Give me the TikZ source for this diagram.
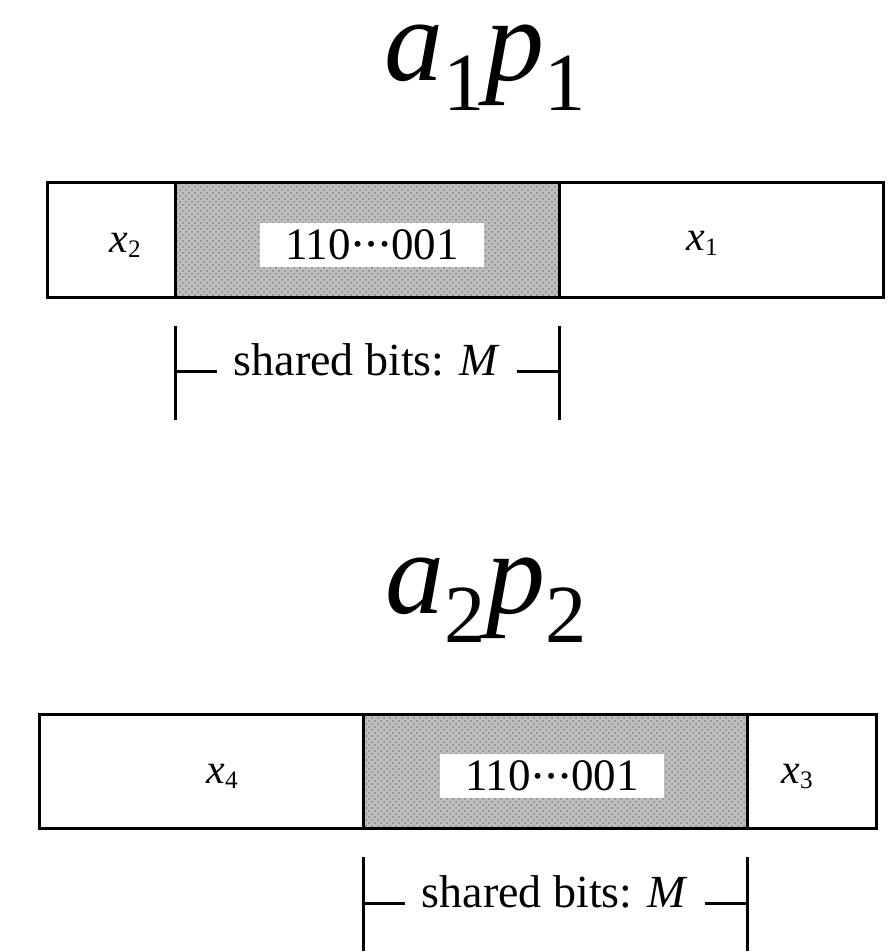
\documentclass[tikz,border=0pt]{standalone}
\usepackage{fontspec}
\setmainfont{Liberation Serif}
\usetikzlibrary{positioning, calc, patterns}
\definecolor{bitlight}{RGB}{190, 190, 190}
\definecolor{bitdark}{RGB}{130, 130, 130}
\newcommand{\bigidx}[1]{\raisebox{-0.25em}{\scalebox{0.7}{#1}}}
\newcommand{\varidx}[1]{\raisebox{-0.12em}{\scalebox{0.6}{#1}}}
\newcommand{\onedot}{\makebox[0.3em]{\raisebox{0.15em}{\scalebox{0.55}{\textbullet}}}}
\newcommand{\bitdots}{\onedot\onedot\onedot}

\begin{document}
\begin{tikzpicture}[
    x=0.5pt, y=-0.5pt,
    cell/.style={rectangle, draw, line width=1.5pt, minimum height=57pt, inner sep=0pt, outer sep=0pt},
    shared/.style={cell, preaction={fill=bitlight}, pattern=crosshatch dots, pattern color=bitdark},
    bitstr/.style={fill=white, minimum width=112pt, minimum height=22pt, inner sep=0pt, font=\fontsize{22.5}{27}\selectfont},
    var/.style={font=\fontsize{21}{25}\selectfont, anchor=base},
    title/.style={font=\fontsize{59}{70}\selectfont, anchor=base, inner sep=0pt},
    span/.style={font=\fontsize{23}{28}\selectfont, anchor=mid, inner xsep=8pt, inner ysep=0pt},
    tick/.style={line width=1.5pt}
]
\useasboundingbox (0,0) rectangle (890,952);

% first word
\node[title] (t1) at (485,81) {\textit{a}\bigidx{1}\textit{p}\bigidx{1}};
\node[cell, minimum width=64pt] (c1a) at (111,240) {};
\node[shared, minimum width=192pt, right=0pt of c1a] (c1b) {};
\node[cell, minimum width=162pt, right=0pt of c1b] (c1c) {};
\node[bitstr] (b1) at ($(c1b)+(5,5)$) {110\bitdots001};
\node[var] (x2) at (125,252) {\textit{x}\varidx{2}};
\node[var] (x1) at (702,250) {\textit{x}\varidx{1}};

\coordinate (m1lt) at (175,326);
\coordinate (m1lb) at (175,420);
\coordinate (m1rt) at (559,326);
\coordinate (m1rb) at (559,420);
\node[span] (s1) at (367,371) {shared bits: \textit{M}};
\draw[tick] (m1lt) -- (m1lb);
\draw[tick] (m1rt) -- (m1rb);
\draw[tick] (s1.mid west) -- (s1.mid west -| m1lt);
\draw[tick] (s1.mid east) -- (s1.mid east -| m1rt);

% second word
\node[title] (t2) at (486,613) {\textit{a}\bigidx{2}\textit{p}\bigidx{2}};
\node[cell, minimum width=162pt] (c2a) at (201,771) {};
\node[shared, minimum width=192pt, right=0pt of c2a] (c2b) {};
\node[cell, minimum width=64.5pt, right=0pt of c2b] (c2c) {};
\node[bitstr] (b2) at ($(c2b)+(-3,5)$) {110\bitdots001};
\node[var] (x4) at (222,783) {\textit{x}\varidx{4}};
\node[var] (x3) at (797,783) {\textit{x}\varidx{3}};

\coordinate (m2lt) at (363,857);
\coordinate (m2lb) at (363,951);
\coordinate (m2rt) at (747,857);
\coordinate (m2rb) at (747,951);
\node[span] (s2) at (555,903) {shared bits: \textit{M}};
\draw[tick] (m2lt) -- (m2lb);
\draw[tick] (m2rt) -- (m2rb);
\draw[tick] (s2.mid west) -- (s2.mid west -| m2lt);
\draw[tick] (s2.mid east) -- (s2.mid east -| m2rt);

\end{tikzpicture}
\end{document}
